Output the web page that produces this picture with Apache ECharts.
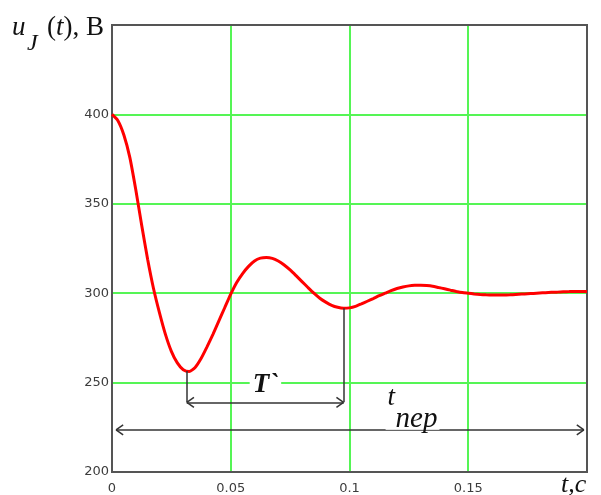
<!DOCTYPE html>
<html>
<head>
<meta charset="utf-8">
<script src="https://cdn.jsdelivr.net/npm/echarts@6/dist/echarts.min.js"></script>
<style>
    html, body { margin: 0; padding: 0; background: #fff; }
    #chart { width: 601px; height: 495px; }
</style>
</head>
<body>
<div id="chart"></div>
<script>
// переходный процесс u_J(t), шаг 0.0025 с
const timeSec = [0, 0.0025, 0.005, 0.0075, 0.01, 0.0125, 0.015, 0.0175, 0.02, 0.0225,
    0.025, 0.0275, 0.03, 0.0325, 0.035, 0.0375, 0.04, 0.0425, 0.045, 0.0475,
    0.05, 0.0525, 0.055, 0.0575, 0.06, 0.0625, 0.065, 0.0675, 0.07, 0.0725,
    0.075, 0.0775, 0.08, 0.0825, 0.085, 0.0875, 0.09, 0.0925, 0.095, 0.0975,
    0.1, 0.1025, 0.105, 0.1075, 0.11, 0.1125, 0.115, 0.1175, 0.12, 0.1225,
    0.125, 0.1275, 0.13, 0.1325, 0.135, 0.1375, 0.14, 0.1425, 0.145, 0.1475,
    0.15, 0.1525, 0.155, 0.1575, 0.16, 0.1625, 0.165, 0.1675, 0.17, 0.1725,
    0.175, 0.1775, 0.18, 0.1825, 0.185, 0.1875, 0.19, 0.1925, 0.195, 0.1975, 0.2]
const voltage = [400, 396.5, 388.5, 376, 358, 338, 319, 302.5, 289, 277,
    267.5, 261, 257.2, 256.2, 258.5, 263.5, 270, 277, 284.5, 292,
    299.5, 306, 311, 315, 318, 319.6, 320, 319.5, 318, 315.8,
    313, 309.8, 306.5, 303.2, 300, 297.2, 295, 293.2, 292.1, 291.6,
    291.8, 292.6, 294, 295.5, 297, 298.6, 300, 301.4, 302.6, 303.5,
    304.1, 304.4, 304.5, 304.3, 303.9, 303.2, 302.5, 301.7, 301, 300.4,
    300, 299.6, 299.3, 299.1, 299, 299, 299, 299.1, 299.3, 299.5,
    299.7, 299.9, 300.1, 300.3, 300.5, 300.6, 300.8, 300.9, 301, 301, 301]

const xTicks = ['0', '0.05', '0.1', '0.15', '']
const yTicks = ['200', '250', '300', '350', '400', '']

// отметки периода T` и времени переходного процесса
const periodT = [0.0315, 0.0975]     // минимумы
const periodMin = [256.5, 291.6]
const periodLevel = 239
const settleT = [0.0017, 0.1987]
const settleLevel = 223.5
const headDx = 0.003
const headDy = 2.8

const seg = (x1, y1, x2, y2) => [{ coord: [x1, y1] }, { coord: [x2, y2] }]
const arrowHeads = (xl, xr, y) => [
    seg(xl, y, xl + headDx, y + headDy), seg(xl, y, xl + headDx, y - headDy),
    seg(xr, y, xr - headDx, y + headDy), seg(xr, y, xr - headDx, y - headDy),
]

const marks = [
    seg(periodT[0], periodMin[0], periodT[0], periodLevel),
    seg(periodT[1], periodMin[1], periodT[1], periodLevel),
    seg(periodT[0], periodLevel, periodT[1], periodLevel),
    ...arrowHeads(periodT[0], periodT[1], periodLevel),
    seg(settleT[0], settleLevel, settleT[1], settleLevel),
    ...arrowHeads(settleT[0], settleT[1], settleLevel),
]

const serif = '"Liberation Serif", "DejaVu Serif", serif'
const tickFont = { color: '#3c3c3c', fontSize: 13, fontFamily: '"DejaVu Sans", sans-serif' }
const greenGrid = { show: true, lineStyle: { color: '#55f555', width: 2 } }

const myChart = echarts.init(document.getElementById('chart'))
myChart.setOption({
    animation: false,
    grid: {
        left: 112,
        top: 25,
        right: 14,
        bottom: 23,
        show: true,
        z: 3,
        backgroundColor: 'transparent',
        borderColor: '#555',
        borderWidth: 2,
    },
    xAxis: {
        type: 'value',
        min: 0,
        max: 0.2,
        interval: 0.05,
        axisLine: { show: false },
        axisTick: { show: false },
        splitLine: greenGrid,
        axisLabel: {
            ...tickFont,
            margin: 10,
            formatter: (v) => xTicks[Math.round(v / 0.05)],
        },
    },
    yAxis: {
        type: 'value',
        min: 200,
        max: 450,
        interval: 50,
        axisLine: { show: false },
        axisTick: { show: false },
        splitLine: greenGrid,
        axisLabel: {
            ...tickFont,
            margin: 3,
            formatter: (v) => yTicks[Math.round((v - 200) / 50)],
        },
    },
    series: [
        {
            type: 'line',
            data: timeSec.map((t, i) => [t, voltage[i]]),
            smooth: 0.2,
            showSymbol: false,
            lineStyle: { color: '#ff0000', width: 3 },
            markLine: {
                silent: true,
                symbol: ['none', 'none'],
                label: { show: false },
                lineStyle: { color: '#333', width: 1.5, type: 'solid' },
                emphasis: { disabled: true },
                data: marks,
            },
            markPoint: {
                silent: true,
                symbol: 'circle',
                symbolSize: 0,
                data: [
                    {
                        coord: [0.0646, 248.6],
                        label: {
                            show: true,
                            position: 'inside',
                            formatter: 'T`',
                            fontFamily: serif,
                            fontStyle: 'italic',
                            fontWeight: 'bold',
                            fontSize: 27,
                            color: '#111',
                            backgroundColor: '#fff',
                            padding: [0, 3, 0, 3],
                        },
                    },
                    {
                        coord: [0.1152, 236.3],
                        label: {
                            show: true,
                            position: 'inside',
                            align: 'left',
                            formatter: '{t|t}\n{s|nep}',
                            backgroundColor: 'rgba(255,255,255,0.8)',
                            padding: [4, 2, 0, 2],
                            rich: {
                                t: { fontFamily: serif, fontStyle: 'italic', fontSize: 27, color: '#111', lineHeight: 20, align: 'left' },
                                s: { fontFamily: serif, fontStyle: 'italic', fontSize: 29, color: '#111', lineHeight: 22, padding: [0, 0, 0, 8], align: 'left' },
                            },
                        },
                    },
                ],
            },
        },
    ],
    graphic: [
        { type: 'text', left: 12, top: 14, style: { text: 'u', font: 'italic 27px ' + serif, fill: '#111' } },
        { type: 'text', left: 27, top: 32, style: { text: 'J', font: 'italic 24px ' + serif, fill: '#111' } },
        {
            type: 'text', left: 47, top: 14,
            style: {
                text: '{n|(}{i|t}{n|), В}',
                rich: {
                    n: { fontFamily: serif, fontSize: 27, fill: '#111' },
                    i: { fontFamily: serif, fontStyle: 'italic', fontSize: 27, fill: '#111' },
                },
            },
        },
        { type: 'text', left: 561, top: 472, style: { text: 't,с', font: 'italic 26px ' + serif, fill: '#111' } },
    ],
})
</script>
</body>
</html>
